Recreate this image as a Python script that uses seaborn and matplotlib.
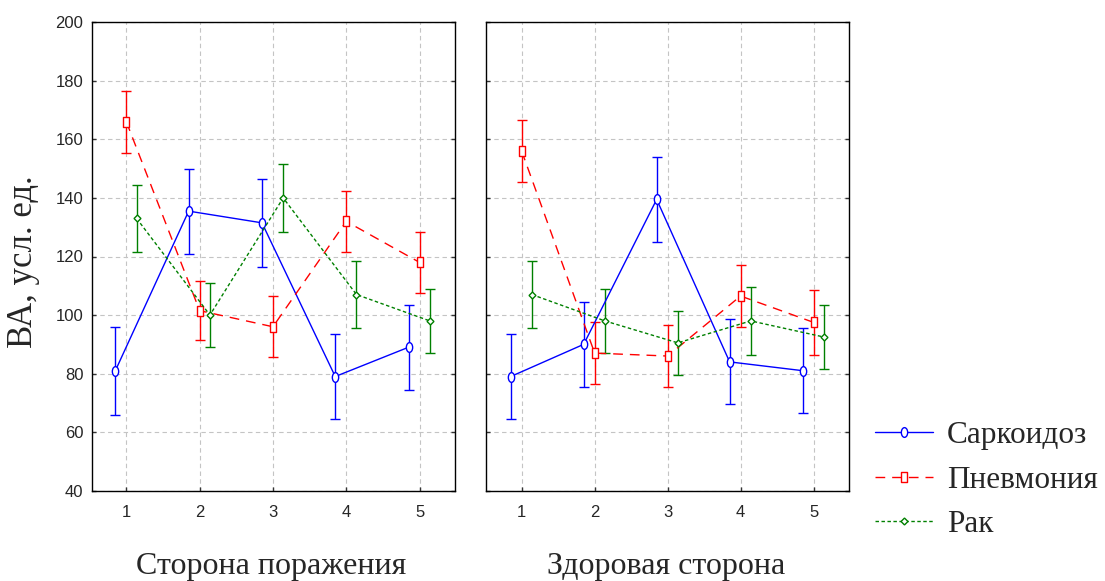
import numpy as np
import pandas as pd
import seaborn as sns
import matplotlib
matplotlib.use("Agg")
import matplotlib.pyplot as plt
from matplotlib.path import Path
from matplotlib.lines import Line2D

# ---------------- data ----------------
groups = ["Саркоидоз", "Пневмония", "Рак"]
x_cats = [1, 2, 3, 4, 5]
panel_titles = ["Сторона поражения", "Здоровая сторона"]

left_sark = [81, 135.5, 131.5, 79, 89]
left_sark_err = [15, 14.5, 15, 14.5, 14.5]
left_pneu = [166, 101.5, 96, 132, 118]
left_pneu_err = [10.5, 10, 10.5, 10.5, 10.5]
left_rak = [133, 100, 140, 107, 98]
left_rak_err = [11.5, 11, 11.5, 11.5, 11]

right_sark = [79, 90, 139.5, 84, 81]
right_sark_err = [14.5, 14.5, 14.5, 14.5, 14.5]
right_pneu = [156, 87, 86, 106.5, 97.5]
right_pneu_err = [10.5, 10.5, 10.5, 10.5, 11]
right_rak = [107, 98, 90.5, 98, 92.5]
right_rak_err = [11.5, 11, 11, 11.5, 11]

y_ticks = [40, 60, 80, 100, 120, 140, 160, 180, 200]
y_label = "ВА, усл. ед."

# ---------------- table ----------------
series = {
    panel_titles[0]: {groups[0]: (left_sark, left_sark_err),
                      groups[1]: (left_pneu, left_pneu_err),
                      groups[2]: (left_rak, left_rak_err)},
    panel_titles[1]: {groups[0]: (right_sark, right_sark_err),
                      groups[1]: (right_pneu, right_pneu_err),
                      groups[2]: (right_rak, right_rak_err)},
}
offsets = {groups[0]: -0.15, groups[1]: 0.0, groups[2]: 0.14}
rows = []
for panel, d in series.items():
    for g, (vals, errs) in d.items():
        for x, v, e in zip(x_cats, vals, errs):
            rows.append(dict(panel=panel, group=g, x=x, xpos=x + offsets[g], value=v, err=e))
df = pd.DataFrame(rows)

# ---------------- style ----------------
sns.set_style("white")
plt.rcParams["font.family"] = ["Liberation Sans", "DejaVu Sans"]
serif = ["Liberation Serif", "DejaVu Serif"]

colors = {groups[0]: "#0000ff", groups[1]: "#ff0000", groups[2]: "#008000"}
dashes = {groups[0]: "", groups[1]: (7, 5), groups[2]: (2.5, 1.8)}

circ = Path.unit_circle()
ellipse = Path(circ.vertices * np.array([0.65, 1.0]), circ.codes)
rect = Path([(-0.36, -0.5), (0.36, -0.5), (0.36, 0.5), (-0.36, 0.5), (-0.36, -0.5)],
            [Path.MOVETO, Path.LINETO, Path.LINETO, Path.LINETO, Path.CLOSEPOLY])
markers = {groups[0]: ellipse, groups[1]: rect, groups[2]: "D"}
msizes = {groups[0]: 7, groups[1]: 6.5, groups[2]: 3.5}

fig = plt.figure(figsize=(11.05, 5.81), dpi=100)
W, H = 1105, 581
lefts = [91.7, 486.3]
pw = 363.0
axes = [fig.add_axes([l / W, 1 - 490.7 / H, pw / W, (490.7 - 22.3) / H]) for l in lefts]
xlims = [(0.527, 5.48), (0.515, 5.49)]

for i, (ax, panel) in enumerate(zip(axes, panel_titles)):
    sub = df[df.panel == panel]
    for g in groups:
        gs = sub[sub.group == g]
        sns.lineplot(data=gs, x="xpos", y="value", color=colors[g], ax=ax,
                     legend=False, sort=False, linewidth=1.0,
                     marker=markers[g], markersize=msizes[g],
                     markerfacecolor="white", markeredgecolor=colors[g],
                     markeredgewidth=1.0, zorder=4)
        if dashes[g]:
            ax.lines[-1].set_dashes(dashes[g])
        ax.errorbar(gs["xpos"], gs["value"], yerr=gs["err"], fmt="none",
                    ecolor=colors[g], elinewidth=1.0, capsize=3.5, capthick=1.0, zorder=3)
    ax.set_xlim(*xlims[i])
    ax.set_ylim(40, 200)
    ax.set_xticks(x_cats)
    ax.set_yticks(y_ticks)
    ax.set_xlabel("")
    ax.set_ylabel("")
    ax.grid(True, color="#c4c4c4", linestyle=(0, (4, 3)), linewidth=0.8)
    ax.set_axisbelow(True)
    for s in ax.spines.values():
        s.set_color("black")
        s.set_linewidth(1.0)
        s.set_visible(True)
    ax.tick_params(direction="in", length=3, width=1, color="#333333",
                   left=True, right=True, top=False, bottom=True,
                   labelsize=12, pad=6)
    ax.tick_params(axis="x", pad=10)
    if i == 1:
        ax.tick_params(labelleft=False)
    fig.text((lefts[i] + pw / 2 - 2) / W, 7 / H, panel, family=serif,
             fontsize=23, ha="center", va="baseline")

fig.text(24 / W, 1 - 262 / H, y_label, family=serif,
         fontsize=25, rotation=90, ha="center", va="center")

handles = []
for g in groups:
    h = Line2D([0], [0], color=colors[g], linewidth=1.0, linestyle="-",
               marker=markers[g], markersize=msizes[g],
               markerfacecolor="white", markeredgecolor=colors[g])
    if dashes[g]:
        h.set_dashes(dashes[g])
    handles.append(h)
fig.legend(handles, groups, loc="upper left", bbox_to_anchor=(875 / W, 1 - 421 / H),
           frameon=False, prop={"family": serif, "size": 22.5},
           handlelength=1.85, handletextpad=0.45, labelspacing=0.5, borderpad=0,
           borderaxespad=0)

fig.savefig("out.png", dpi=100)
